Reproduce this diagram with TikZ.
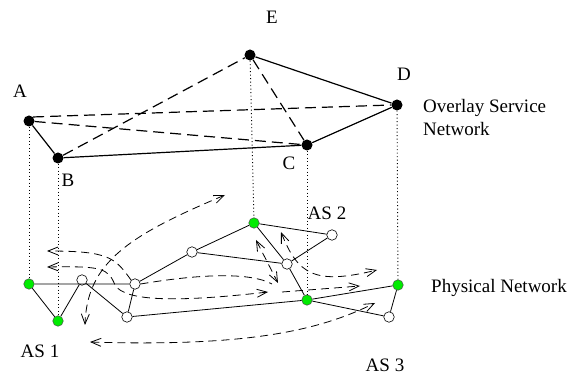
\documentclass[tikz,border=0pt]{standalone}
\usepackage{fontspec}
\setmainfont{Liberation Serif}
\usetikzlibrary{arrows.meta}
\definecolor{nodegreen}{RGB}{0,235,0}
\tikzset{
  onode/.style={circle,fill=black,inner sep=0pt,minimum size=11pt},
  gnode/.style={circle,draw=black!70,fill=nodegreen,line width=0.5pt,inner sep=0pt,minimum size=10.5pt},
  wnode/.style={circle,draw,fill=white,line width=0.6pt,inner sep=0pt,minimum size=10.5pt},
  olink/.style={line width=1.2pt},
  odash/.style={line width=1.2pt,dash pattern=on 11pt off 6pt},
  plink/.style={line width=0.8pt},
  route/.style={line width=0.8pt,dash pattern=on 8pt off 5pt,>={Straight Barb[length=10pt,width=8pt]}},
  vline/.style={line width=0.9pt,dash pattern=on 0.9pt off 2.6pt},
  lbl/.style={font=\fontsize{19}{23}\selectfont,inner sep=0pt}
}
\begin{document}
\begin{tikzpicture}[x=1pt,y=-1pt]
    \useasboundingbox (0,0) rectangle (579,374);
    % overlay service network
    \node[onode] (A) at (29,121) {};
    \node[onode] (B) at (58,158) {};
    \node[onode] (C) at (307,145) {};
    \node[onode] (D) at (397,105) {};
    \node[onode] (E) at (250,55) {};
    \node[lbl] (la) at (20,91) {A};
    \node[lbl] (lb) at (68,180) {B};
    \node[lbl] (lc) at (289,163) {C};
    \node[lbl] (ld) at (404,74) {D};
    \node[lbl] (le) at (272,17) {E};
    \node[lbl,anchor=base west] (lo) at (423,113) {Overlay Service};
    \node[lbl,anchor=base west] (ln) at (423,136) {Network};
    \draw[olink] (A) -- (B) -- (C) -- (D) -- (E);
    \draw[odash] (A.north east) -- (D.west);
    \draw[odash] (A) -- (C);
    \draw[odash] (B) -- (E);
    \draw[odash] (E) -- (C);

    % physical network
    \node[gnode] (pa) at (29,284) {};
    \node[gnode] (pb) at (58,321) {};
    \node[gnode] (pe) at (254,223) {};
    \node[gnode] (pc) at (307,300) {};
    \node[gnode] (pd) at (398,285) {};
    \node[wnode] (w1) at (82,280) {};
    \node[wnode] (w2) at (135,284) {};
    \node[wnode] (w3) at (127,317) {};
    \node[wnode] (w4) at (192,252) {};
    \node[wnode] (w5) at (287,264) {};
    \node[wnode] (w6) at (332,235) {};
    \node[wnode] (w7) at (389,317) {};
    \node[lbl,anchor=base west] (lp) at (431,293) {Physical Network};
    \node[lbl] (as1) at (40,351) {AS 1};
    \node[lbl] (as2) at (327,213) {AS 2};
    \node[lbl] (as3) at (385,365) {AS 3};

    \draw[plink] (pa) -- (w2) -- (w4) -- (pe) -- (w6) -- (w5) -- (pc) -- (pd) -- (w7) -- (pc);
    \draw[plink] (pa) -- (pb) -- (w1) -- (w3) -- (w2);
    \draw[plink] (w4) -- (w5) -- (pe);
    \draw[plink] (w3) -- (pc);

    % mapping
    \draw[vline] (A) -- (pa);
    \draw[vline] (B) -- (pb);
    \draw[vline] (E) -- (pe);
    \draw[vline] (C) -- (pc);
    \draw[vline] (D) -- (pd);

    % routes
    \coordinate (ra) at (47,251);
    \coordinate (rb) at (47,267);
    \coordinate (rc) at (268,292);
    \coordinate (rd) at (282,292);
    \coordinate (re) at (360,286);
    \coordinate (rf) at (272,284);
    \coordinate (rg) at (256,240);
    \coordinate (rh) at (278,283);
    \coordinate (ri) at (281,232);
    \coordinate (rj) at (377,270);
    \coordinate (rk) at (225,195);
    \coordinate (rl) at (85,325);
    \coordinate (rm) at (90,342);
    \coordinate (rn) at (375,303);
    \draw[route,->] (w2.north west) .. controls (115,258) and (110,251) .. (ra);
    \draw[route,<->] (rc) .. controls (180,302) and (125,302) .. (115,285) .. controls (108,268) and (102,266) .. (rb);
    \draw[route,->] (rd) -- (re);
    \draw[route] (w2.east) .. controls (200,274) and (250,272) .. (rf);
    \draw[route,<->] (rg) -- (rh);
    \draw[route,<->] (ri) .. controls (298,275) and (315,285) .. (rj);
    \draw[route,<->] (rk) .. controls (130,235) and (87,262) .. (rl);
    \draw[route,<->] (rm) .. controls (250,347) and (320,330) .. (rn);
\end{tikzpicture}
\end{document}
